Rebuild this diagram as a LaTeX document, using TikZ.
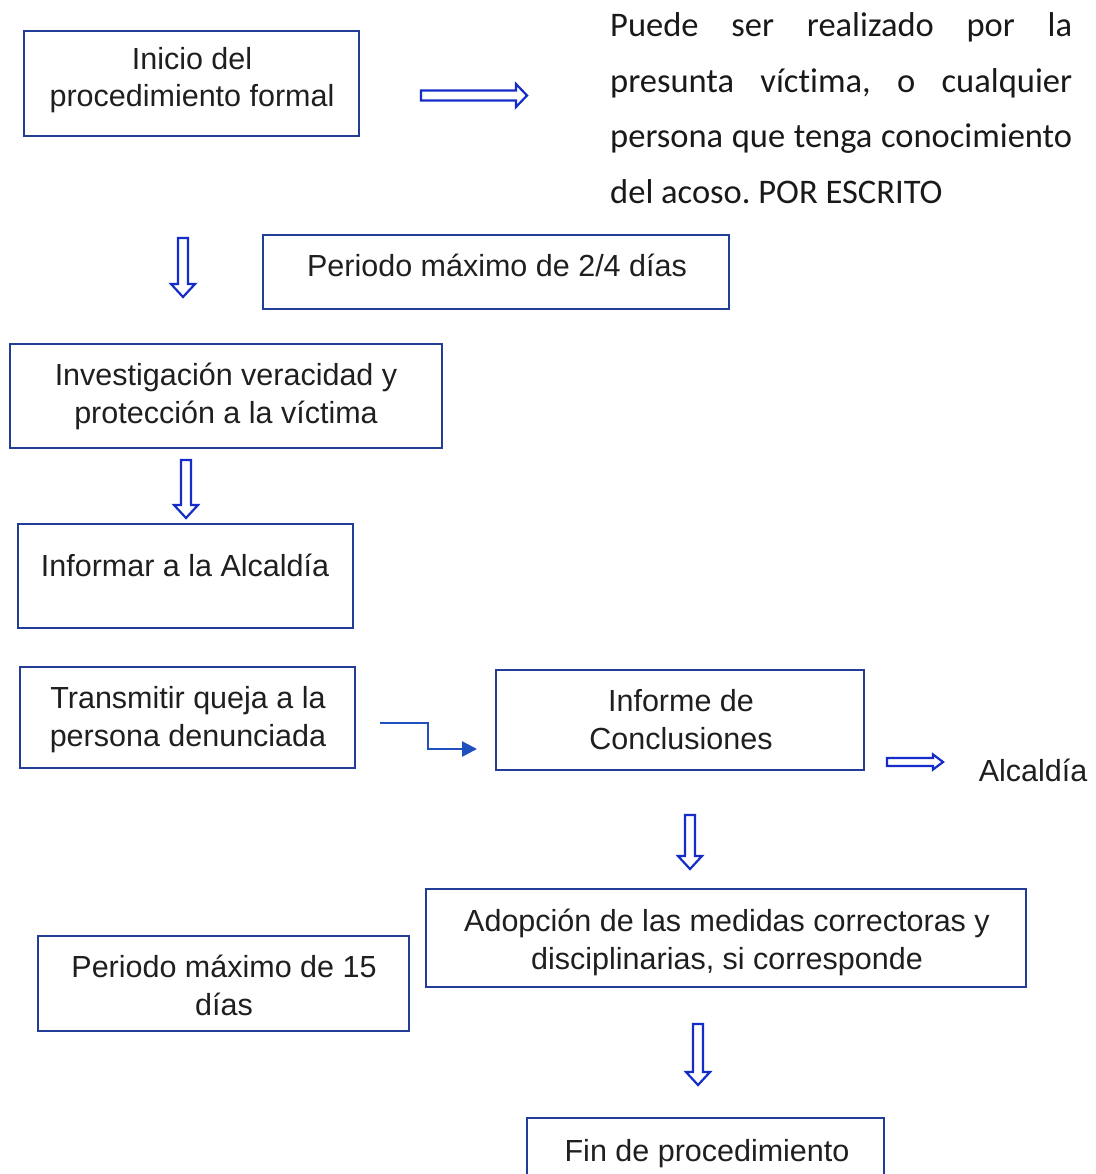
\documentclass[tikz,border=0pt]{standalone}
\usepackage{fontspec}
\setmainfont{Liberation Sans}
\newfontfamily\carlitofont[Ligatures={NoCommon}]{Carlito}
\usetikzlibrary{arrows.meta}
\definecolor{boxblue}{RGB}{35,60,150}
\definecolor{arrowblue}{RGB}{20,45,200}
\definecolor{stepblue}{RGB}{30,80,190}
\tikzset{
  box/.style={draw=boxblue, line width=2.6pt, rectangle, inner sep=0pt},
  txt/.style={font=\fontsize{30.5}{37.5}\selectfont, align=center, anchor=base, inner sep=0pt, text=black!88},
  hollow/.style={draw=arrowblue, line width=2.2pt, fill=white, line join=miter},
  steparrow/.style={draw=stepblue, line width=2.6pt, -{Triangle[length=15pt,width=15pt]}}
}
\newcommand\hollowdown[3]{%
  \draw[hollow] (#1-5,#2) -- (#1+5,#2) -- (#1+5,#3-13) -- (#1+12,#3-13) -- (#1,#3)
    -- (#1-12,#3-13) -- (#1-5,#3-13) -- cycle;}
\newcommand\hollowright[6]{% x1 x2 y halfshaft halfhead headlen
  \draw[hollow] (#1,#3-#4) -- (#2-#6,#3-#4) -- (#2-#6,#3-#5) -- (#2,#3) -- (#2-#6,#3+#5)
    -- (#2-#6,#3+#4) -- (#1,#3+#4) -- cycle;}
\begin{document}
\frenchspacing
\begin{tikzpicture}[x=1pt,y=-1pt]
\useasboundingbox[fill=white] (0,0) rectangle (1095,1174);

% boxes
\node[box, minimum width=335pt, minimum height=105pt] (b1) at (191.5,83.5) {};
\node[box, minimum width=466pt, minimum height=74pt] (b2) at (496,272) {};
\node[box, minimum width=432pt, minimum height=104pt] (b3) at (226,396) {};
\node[box, minimum width=335pt, minimum height=104pt] (b4) at (185.5,576) {};
\node[box, minimum width=335pt, minimum height=101pt] (b5) at (187.5,717.5) {};
\node[box, minimum width=368pt, minimum height=100pt] (b6) at (680,720) {};
\node[box, minimum width=600pt, minimum height=98pt] (b8) at (726,938) {};
\node[box, minimum width=371pt, minimum height=95pt] (b9) at (223.5,983.5) {};
\node[box, minimum width=357pt, minimum height=82pt] (b10) at (705.5,1159) {};

% texts (two-line texts are anchored at the baseline of their last line)
\node[txt] (t1) at (192,107) {Inicio del\\procedimiento formal};
\node[txt] (t2) at (497,276) {Periodo máximo de 2/4 días};
\node[txt] (t3) at (226,423) {Investigación veracidad y\\protección a la víctima};
\node[txt] (t4) at (185,576) {Informar a la Alcaldía};
\node[txt] (t5) at (188,746) {Transmitir queja a la\\persona denunciada};
\node[txt] (t6) at (681,749) {Informe de\\Conclusiones};
\node[txt] (t7) at (1033,781) {Alcaldía};
\node[txt] (t8) at (727,969) {Adopción de las medidas correctoras y\\disciplinarias, si corresponde};
\node[txt] (t9) at (224,1015) {Periodo máximo de 15\\días};
\node[txt] (t10) at (707,1161) {Fin de procedimiento};

% paragraph
\node[anchor=base west, inner sep=0pt, text width=462pt, align=justify,
      font=\carlitofont\fontsize{34.5}{55.5}\selectfont, text=black!90] (p) at (610,37)
  {Puede ser realizado por la\linebreak presunta víctima, o cualquier\linebreak persona que tenga conocimiento\linebreak del acoso. POR ESCRITO};

% hollow arrows
\hollowright{421}{527}{95.5}{5}{11.5}{11}
\hollowright{887}{943}{762}{4}{7.5}{10}
\hollowdown{183}{238}{297}
\hollowdown{186}{460}{518}
\hollowdown{690}{815}{869}
\hollowdown{698}{1024}{1085}

% step arrow
\coordinate (s1) at (380,723);
\coordinate (s2) at (477,749);
\draw[steparrow] (s1) -- (428,723) -- (428,749) -- (s2);
\end{tikzpicture}
\end{document}
